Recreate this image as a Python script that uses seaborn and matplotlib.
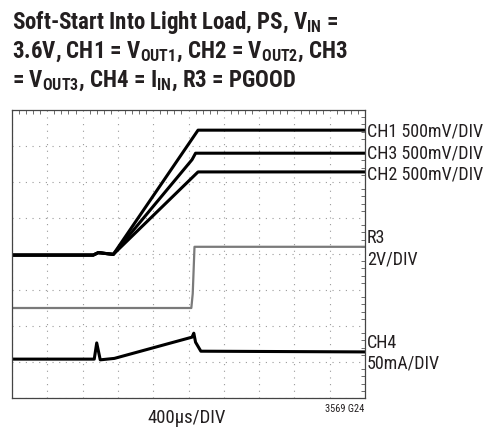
import matplotlib
matplotlib.use("Agg")
import matplotlib.pyplot as plt
import seaborn as sns
from matplotlib.ticker import MultipleLocator

# scope traces, x and y in divisions (10 x 8 grid)
t_ch1 = [0, 2.3, 2.45, 2.6, 2.87, 5.27, 10]
ch1 = [3.97, 3.97, 4.04, 4.02, 3.99, 7.44, 7.44]
t_ch3 = [0, 2.3, 2.45, 2.6, 2.87, 5.1, 5.2, 10]
ch3 = [3.97, 3.97, 4.04, 4.02, 3.99, 6.62, 6.8, 6.8]
t_ch2 = [0, 2.3, 2.45, 2.6, 2.87, 5.27, 10]
ch2 = [3.97, 3.97, 4.04, 4.02, 3.99, 6.28, 6.28]
t_r3 = [0, 5.08, 5.12, 5.17, 10]
r3 = [2.5, 2.5, 2.9, 4.2, 4.2]
t_ch4 = [0, 2.33, 2.4, 2.5, 2.9, 5.1, 5.15, 5.2, 5.35, 10]
ch4 = [1.08, 1.08, 1.53, 1.06, 1.1, 1.69, 1.8, 1.55, 1.3, 1.28]

title_lines = ["Soft-Start Into Light Load, PS, V$_{\\mathbf{IN}}$ =",
               "3.6V, CH1 = V$_{\\mathbf{OUT1}}$, CH2 = V$_{\\mathbf{OUT2}}$, CH3",
               "= V$_{\\mathbf{OUT3}}$, CH4 = I$_{\\mathbf{IN}}$, R3 = PGOOD"]
right_labels = ["CH1 500mV/DIV", "CH3 500mV/DIV", "CH2 500mV/DIV",
                "R3", "2V/DIV", "CH4", "50mA/DIV"]

W, H = 498, 428
sns.set_style("white")
narrow = ["Roboto Condensed", "Liberation Sans Narrow", "Arial Narrow", "Roboto", "DejaVu Sans"]
plt.rcParams["font.family"] = narrow
plt.rcParams["mathtext.fontset"] = "custom"
plt.rcParams["mathtext.rm"] = "Roboto Condensed"
plt.rcParams["mathtext.bf"] = "Roboto Condensed:bold"

fig = plt.figure(figsize=(W / 100, H / 100), dpi=100)
ax = fig.add_axes([12 / W, 30 / H, 353 / W, 288 / H])

for t, y in [(t_ch1, ch1), (t_ch3, ch3), (t_ch2, ch2), (t_ch4, ch4)]:
    sns.lineplot(x=t, y=y, ax=ax, color="black", lw=2.2, estimator=None, sort=False)
sns.lineplot(x=t_r3, y=r3, ax=ax, color="#7a7a7a", lw=1.6, estimator=None, sort=False)

ax.set_xlim(0, 10)
ax.set_ylim(0, 8)
ax.xaxis.set_major_locator(MultipleLocator(1))
ax.yaxis.set_major_locator(MultipleLocator(1))
ax.xaxis.set_minor_locator(MultipleLocator(0.2))
ax.yaxis.set_minor_locator(MultipleLocator(0.2))
ax.grid(True, which="major", color="#9a9a9a", linestyle=(0, (1, 5)), lw=0.8)
ax.tick_params(which="both", direction="in", top=True, right=True,
               labelbottom=False, labelleft=False, color="#555555")
ax.tick_params(which="major", length=0)
ax.tick_params(which="minor", length=3, width=0.6)
for s in ax.spines.values():
    s.set_color("#444444")
    s.set_linewidth(0.9)


def px(x, y):
    return x / W, 1 - y / H


# title, one text per line so each baseline sits where it should
for line, base in zip(title_lines, [29, 58, 87]):
    fig.text(*px(12, base), line, fontsize=16.5, fontweight="bold", ha="left",
             va="baseline", color="#231f20")

# trace labels on the right
for txt, base in zip(right_labels, [137, 158, 180, 243, 264, 348, 369]):
    fig.text(*px(367, base), txt, fontsize=13, ha="left", va="baseline", color="#231f20")

fig.text(*px(187, 423), "400\u00b5s/DIV", fontsize=13.5, ha="center", va="baseline", color="#231f20")
fig.text(*px(364, 412), "3569 G24", fontsize=7.5, ha="right", va="baseline", color="#231f20")

fig.savefig("out.png", dpi=100)
